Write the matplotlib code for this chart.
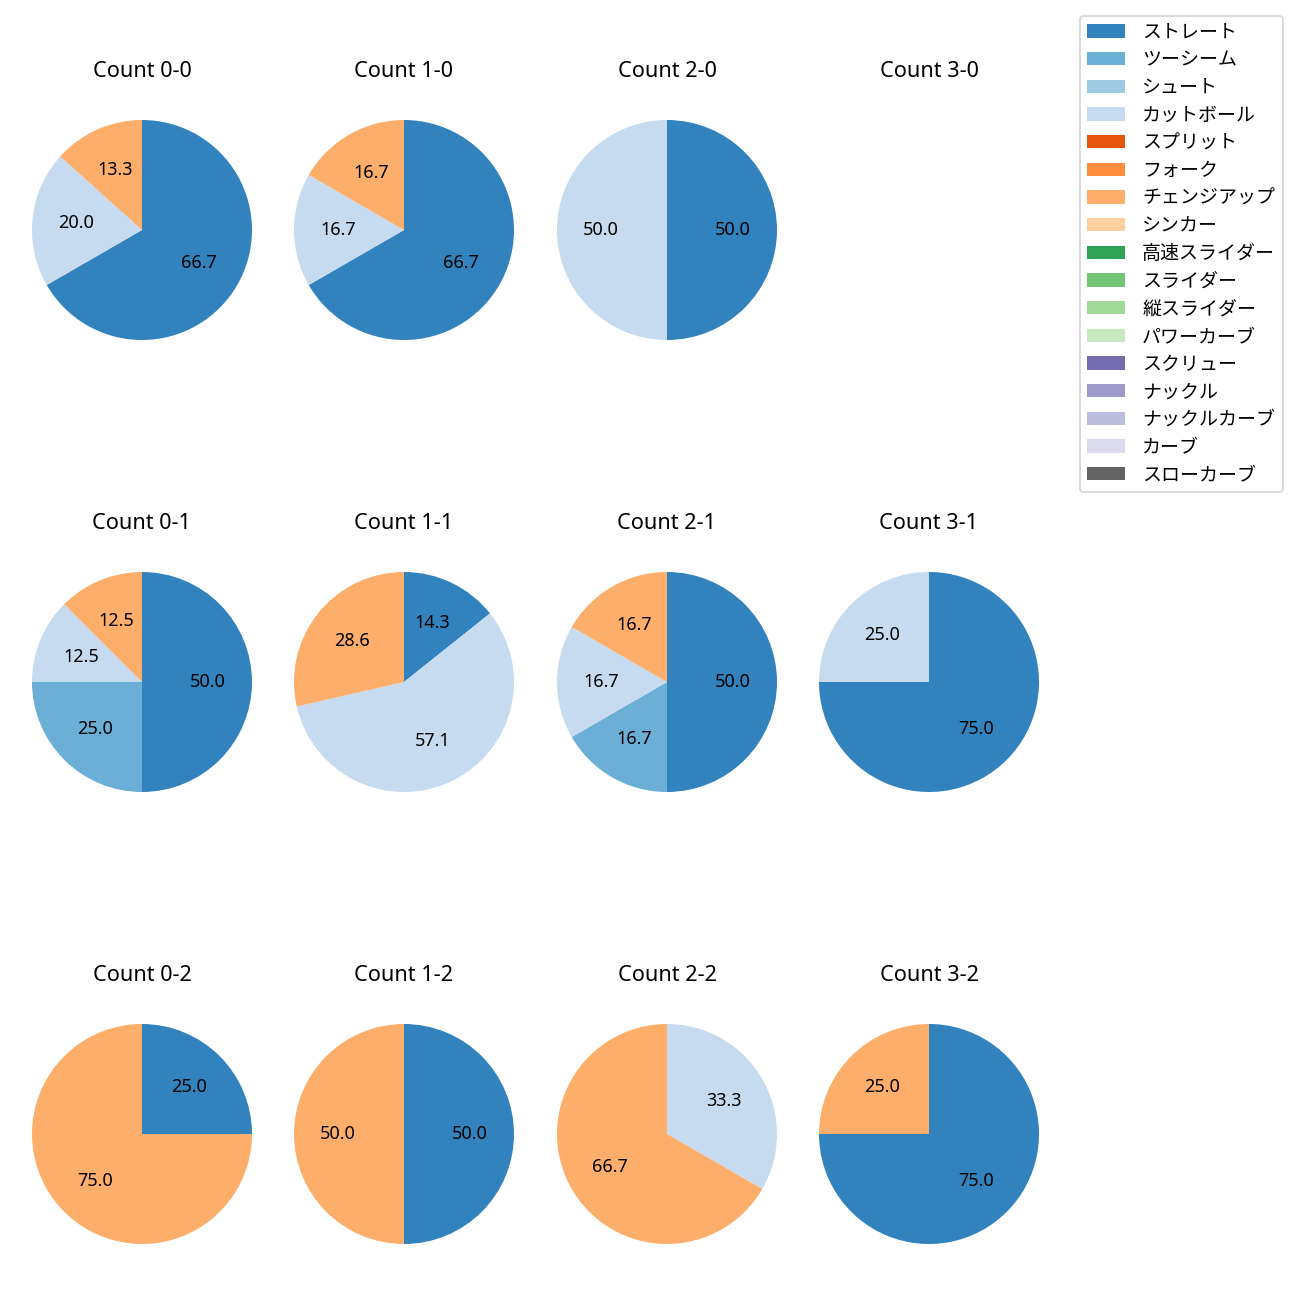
import matplotlib
matplotlib.use("Agg")
import matplotlib.pyplot as plt
from matplotlib.patches import Patch

plt.rcParams['font.family'] = ['Noto Sans', 'Noto Sans CJK JP', 'DejaVu Sans']

pitch_types = ['ストレート', 'ツーシーム', 'シュート', 'カットボール', 'スプリット', 'フォーク',
               'チェンジアップ', 'シンカー', '高速スライダー', 'スライダー', '縦スライダー',
               'パワーカーブ', 'スクリュー', 'ナックル', 'ナックルカーブ', 'カーブ', 'スローカーブ']

# counts per pitch type (order as pitch_types) for each ball-strike count
counts = {
    '0-0': [10, 0, 0, 3, 0, 0, 2, 0, 0, 0, 0, 0, 0, 0, 0, 0, 0],
    '1-0': [4, 0, 0, 1, 0, 0, 1, 0, 0, 0, 0, 0, 0, 0, 0, 0, 0],
    '2-0': [1, 0, 0, 1, 0, 0, 0, 0, 0, 0, 0, 0, 0, 0, 0, 0, 0],
    '3-0': [0, 0, 0, 0, 0, 0, 0, 0, 0, 0, 0, 0, 0, 0, 0, 0, 0],
    '0-1': [4, 2, 0, 1, 0, 0, 1, 0, 0, 0, 0, 0, 0, 0, 0, 0, 0],
    '1-1': [1, 0, 0, 4, 0, 0, 2, 0, 0, 0, 0, 0, 0, 0, 0, 0, 0],
    '2-1': [3, 1, 0, 1, 0, 0, 1, 0, 0, 0, 0, 0, 0, 0, 0, 0, 0],
    '3-1': [3, 0, 0, 1, 0, 0, 0, 0, 0, 0, 0, 0, 0, 0, 0, 0, 0],
    '0-2': [1, 0, 0, 0, 0, 0, 3, 0, 0, 0, 0, 0, 0, 0, 0, 0, 0],
    '1-2': [1, 0, 0, 0, 0, 0, 1, 0, 0, 0, 0, 0, 0, 0, 0, 0, 0],
    '2-2': [0, 0, 0, 1, 0, 0, 2, 0, 0, 0, 0, 0, 0, 0, 0, 0, 0],
    '3-2': [3, 0, 0, 0, 0, 0, 1, 0, 0, 0, 0, 0, 0, 0, 0, 0, 0],
}
balls = ['0', '1', '2', '3']
strikes = ['0', '1', '2']

cmap = plt.get_cmap('tab20c')
colors = [cmap(i) for i in range(len(pitch_types))]

W, H = 1300, 1300
fig = plt.figure(figsize=(10, 10), dpi=130)

col_c = [142, 404, 667, 929]
row_c = [230, 682, 1134]
s = 275

for r, st in enumerate(strikes):
    for c, b in enumerate(balls):
        key = f'{b}-{st}'
        cx, cy = col_c[c], row_c[r]
        ax = fig.add_axes([(cx - s / 2) / W, 1 - (cy + s / 2) / H, s / W, s / H])
        vals = counts[key]
        idx = [i for i, v in enumerate(vals) if v > 0]
        ax.set_title(f'Count {key}', fontsize=12, pad=8.7)
        if idx:
            ax.pie([vals[i] for i in idx], colors=[colors[i] for i in idx],
                   autopct='%.1f', startangle=90, counterclock=False,
                   textprops={'fontsize': 10})
        else:
            ax.set_xlim(-1.25, 1.25)
            ax.set_ylim(-1.25, 1.25)
            ax.set_aspect('equal')
            ax.axis('off')

handles = [Patch(facecolor=colors[i], label=pitch_types[i]) for i in range(len(pitch_types))]
fig.legend(handles=handles, loc='upper right', bbox_to_anchor=(0.994, 0.995),
           fontsize=10.5, labelspacing=0.51, handletextpad=0.9)

fig.savefig('out.png', dpi=130)
